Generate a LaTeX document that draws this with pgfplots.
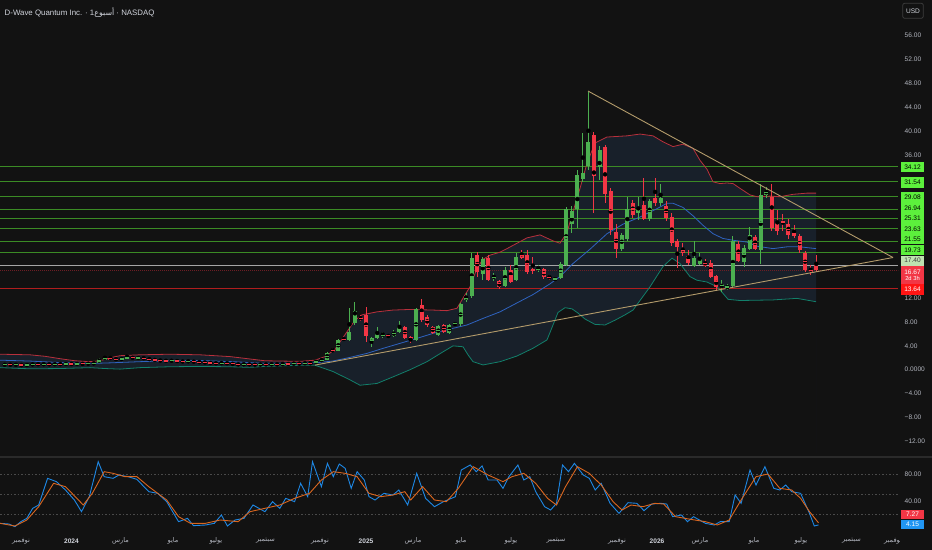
\documentclass[border=0pt]{standalone}
\usepackage{pgfplots}
\pgfplotsset{compat=1.18}
\usepackage{pgfplotstable}
\usepackage{fontspec}
\setmainfont{Liberation Sans}
\newfontfamily\arabicfont[Script=Arabic]{DejaVu Sans}
\TeXXeTstate=1
\newcommand{\ar}[1]{{\arabicfont\beginR #1\endR}}
\newcommand{\tf}{\fontsize{6.6}{7.5}\selectfont}
\definecolor{bg}{HTML}{121212}
\definecolor{axtext}{HTML}{B2B5BE}
\definecolor{titlec}{HTML}{D1D4DC}
\definecolor{upc}{HTML}{4CAF50}
\definecolor{dnc}{HTML}{F23645}
\definecolor{lvl}{HTML}{3B8B25}
\definecolor{lvlbox}{HTML}{5CF03C}
\definecolor{bbU}{HTML}{B8303C}
\definecolor{bbM}{HTML}{2F63C0}
\definecolor{bbL}{HTML}{12806B}
\definecolor{bbfill}{HTML}{18202A}
\definecolor{tanc}{HTML}{B39B6B}
\definecolor{rsiB}{HTML}{1E88E5}
\definecolor{rsiO}{HTML}{D9661F}
\definecolor{sepc}{HTML}{2A2A2A}
\definecolor{rsigrid}{HTML}{4A4A4A}

\pgfplotstableread{
i o h l c
0 0.80 0.90 0.76 0.86
2 0.80 0.88 0.77 0.84
4 0.74 0.85 0.72 0.82
5 0.82 0.98 0.80 0.95
7 0.88 0.98 0.86 0.95
9 0.86 0.99 0.84 0.96
11 0.92 1.02 0.90 0.98
13 0.94 1.04 0.92 1.00
15 0.96 1.08 0.94 1.04
16 1.04 1.14 1.00 1.10
17 1.10 1.95 1.08 1.80
18 1.80 2.30 1.70 1.95
21 1.72 1.95 1.66 1.86
22 1.86 2.55 1.82 2.05
24 1.92 2.10 1.85 2.02
30 1.45 1.60 1.42 1.52
33 1.35 1.50 1.32 1.42
39 1.05 1.20 1.02 1.14
43 0.86 0.98 0.84 0.93
46 0.83 0.95 0.80 0.90
48 0.85 0.98 0.83 0.92
50 0.88 1.04 0.86 0.98
52 0.95 1.12 0.93 1.05
54 1.00 1.18 0.98 1.12
56 1.07 1.62 1.02 1.51
57 1.51 1.75 1.45 1.63
58 1.63 3.00 1.55 2.85
60 3.19 5.10 3.10 4.97
62 4.97 10.40 4.80 6.37
63 7.88 11.40 7.50 9.89
66 4.53 5.50 3.86 5.26
67 5.36 7.10 5.20 6.09
68 5.64 6.40 5.40 5.92
70 5.64 6.60 5.50 6.37
71 6.32 8.16 6.20 7.27
74 4.97 10.40 4.80 10.10
78 5.76 7.50 5.60 7.27
80 6.15 7.60 6.00 7.43
81 7.49 8.00 7.30 7.88
82 7.60 11.20 7.30 11.00
83 11.70 12.80 11.40 12.20
84 12.40 19.60 12.00 18.70
86 16.10 18.90 15.10 18.50
88 15.30 16.20 14.90 15.60
90 14.00 17.20 13.80 16.70
92 15.00 19.50 14.80 18.90
96 16.75 17.60 16.40 16.95
99 15.10 15.50 14.90 15.30
100 15.40 18.00 15.20 17.70
101 17.60 27.30 17.40 26.90
102 24.40 27.50 22.90 26.60
103 26.90 33.50 23.70 32.60
104 31.90 39.60 31.50 33.00
105 34.10 46.60 33.50 38.20
107 33.90 37.50 31.80 36.90
111 20.30 23.00 19.90 22.60
112 21.90 29.00 21.50 26.90
114 26.30 29.00 25.10 26.80
116 25.20 28.60 25.00 28.20
118 27.90 31.20 27.40 28.80
124 17.40 21.60 17.20 18.70
125 17.80 19.60 17.60 18.60
129 13.80 15.00 13.10 14.40
130 13.80 14.30 13.40 13.95
131 14.00 22.40 13.70 21.60
133 18.10 20.90 17.30 20.40
134 20.30 24.00 20.10 22.50
136 20.00 31.10 17.80 29.30
137 29.30 30.70 28.80 30.00
}\up

\pgfplotstableread{
i o h l c
1 0.86 0.90 0.78 0.80
3 0.84 0.86 0.70 0.74
6 0.95 0.99 0.85 0.88
8 0.95 0.97 0.84 0.86
10 0.96 1.00 0.88 0.92
12 0.98 1.01 0.90 0.94
14 1.00 1.03 0.92 0.96
19 1.95 2.20 1.72 1.78
20 1.78 1.90 1.62 1.72
23 2.05 2.15 1.86 1.92
25 2.02 2.08 1.80 1.85
26 1.85 1.90 1.65 1.70
27 1.70 1.76 1.52 1.58
28 1.58 1.64 1.45 1.50
29 1.50 1.58 1.40 1.45
31 1.52 1.56 1.35 1.40
32 1.40 1.46 1.30 1.35
34 1.42 1.45 1.26 1.30
35 1.30 1.36 1.20 1.25
36 1.25 1.30 1.12 1.18
37 1.18 1.22 1.05 1.10
38 1.10 1.16 1.00 1.05
40 1.14 1.18 1.00 1.05
41 1.05 1.08 0.88 0.92
42 0.92 0.96 0.82 0.86
44 0.93 0.96 0.84 0.88
45 0.88 0.92 0.78 0.83
47 0.90 0.94 0.82 0.85
49 0.92 0.96 0.84 0.88
51 0.98 1.02 0.90 0.95
53 1.05 1.10 0.96 1.00
55 1.12 1.16 1.02 1.07
59 3.47 3.60 2.90 3.02
61 5.26 5.40 4.90 4.97
64 8.78 9.20 8.10 8.44
65 9.11 10.45 4.70 5.64
69 5.81 6.00 5.30 5.53
72 7.21 7.40 5.20 5.36
73 5.53 5.60 4.53 5.14
75 10.78 11.80 8.00 8.27
76 8.89 9.10 7.10 7.49
77 7.15 7.40 6.00 6.20
79 7.55 7.70 6.20 6.37
85 19.20 19.80 15.60 16.30
87 18.80 19.20 14.90 15.10
89 14.90 15.00 13.60 13.90
91 16.70 17.50 14.50 14.70
93 19.40 20.10 18.60 18.80
94 19.20 20.00 16.00 16.30
95 16.85 18.90 16.00 16.70
97 16.90 17.10 15.20 15.50
98 15.55 15.90 15.10 15.40
106 39.40 39.80 26.30 32.50
108 37.30 37.60 27.90 29.40
109 30.00 30.50 22.50 23.50
110 23.10 24.50 18.70 20.30
113 27.90 28.50 25.50 26.00
115 27.60 32.20 25.10 25.20
117 28.70 32.10 27.50 28.00
119 27.50 28.20 25.00 25.50
120 25.60 26.20 20.80 21.20
121 21.50 21.90 17.00 20.60
122 20.40 21.30 19.00 19.50
123 19.10 20.10 17.50 17.90
126 18.10 18.50 17.20 17.40
127 17.90 18.40 15.30 15.50
128 15.70 15.90 13.20 13.80
132 21.10 21.60 18.00 18.30
135 22.20 22.60 20.00 20.20
138 28.90 31.20 23.20 23.70
139 24.80 26.80 22.60 23.30
140 24.90 26.10 23.20 24.60
141 24.40 25.30 21.90 22.60
142 23.10 24.20 22.00 22.40
143 22.40 22.80 19.60 20.10
144 19.60 19.90 16.30 16.70
145 16.90 17.60 15.90 16.30
146 17.80 19.20 16.30 16.67
}\down

\pgfplotstableread{
x p
0 2.6
30 2.5
45 2.25
60 1.85
75 1.5
90 1.35
100 1.5
110 2.0
120 2.35
140 2.5
170 2.6
200 2.5
230 2.2
250 1.8
265 1.5
300 1.4
315 1.6
325 2.2
335 3.4
343 5.4
355 8.3
362 9.2
377 9.7
393 10.0
410 10.1
433 10.0
447 9.9
457 10.3
463 12.0
470 13.9
477 17.0
483 18.5
490 19.2
500 19.7
507 20.3
517 21.2
527 22.1
540 22.6
553 21.6
560 21.2
567 23.0
573 26.5
580 30.4
587 34.6
595 38.0
607 39.0
627 39.2
640 39.5
653 39.2
663 38.2
673 37.4
683 37.8
693 37.1
700 35.1
707 33.6
713 31.5
720 31.2
727 31.3
733 31.2
740 30.4
750 29.3
757 29.0
770 29.1
780 29.0
793 29.4
807 29.6
816 29.6
}\bbup

\pgfplotstableread{
x p
0 1.6
30 1.45
60 1.2
90 1.05
110 1.15
140 1.35
170 1.5
198 1.55
232 1.35
265 1.07
298 1.07
317 1.18
333 1.46
350 2.07
367 2.74
383 3.58
400 4.42
417 5.26
433 6.09
450 6.82
467 7.5
483 8.6
500 9.7
517 11.2
533 12.6
550 14.4
560 15.6
573 17.8
590 20.2
607 22.8
623 24.4
640 25.6
657 27.0
667 27.9
673 27.9
683 27.2
693 25.8
703 24.2
713 22.8
723 22.0
733 21.7
747 21.4
757 20.7
773 20.3
787 20.6
800 20.6
816 20.3
}\bbmid

\pgfplotstableread{
x p
0 0.35
30 0.15
60 0.2
90 0.35
105 0.2
120 0.1
140 0.35
170 0.5
200 0.55
230 0.5
250 0.4
265 0.55
300 0.75
315 0.75
333 -0.3
350 -1.7
360 -2.6
377 -2.3
393 -1.2
410 0.0
427 1.35
443 3.0
453 4.0
463 3.85
468 2.5
473 1.35
483 0.8
500 1.35
517 2.3
533 3.6
547 5.0
553 7.5
558 9.6
565 10.4
572 10.2
578 9.5
585 8.5
595 7.6
605 7.5
615 8.3
625 9.2
633 10.0
650 13.9
663 17.3
672 18.7
680 17.8
690 15.6
697 15.0
707 14.7
717 13.9
723 12.8
728 11.8
740 11.6
773 11.7
797 11.96
816 11.4
}\bblow

\pgfplotstableread{
x v
0 6.5
8.9 5.5
14.9 1.5
20.8 9.0
26.8 14.0
32.7 29.0
38.7 34.0
47.6 74.0
56.5 69.0
65.5 56.5
74.4 41.5
81.5 24.0
89.3 46.5
98.2 99.0
104.2 76.5
113.1 74.0
119.0 79.0
128.0 76.5
136.9 72.5
148.8 54.0
157.7 51.5
166.7 39.0
178.6 9.0
187.5 14.0
193.5 3.0
205.4 4.0
214.3 6.5
221.4 19.0
227.4 2.5
235.1 11.5
244.0 14.0
253.0 34.0
264.9 24.0
272.6 39.0
279.8 29.0
285.7 44.0
294.6 39.0
300.6 66.5
307.7 46.5
312.5 99.0
321.4 61.5
327.4 96.5
333.3 76.5
339.3 95.5
345.2 89.0
351.2 59.0
357.1 84.0
364.3 71.5
369.0 46.5
375.0 41.5
383.9 51.5
392.9 49.0
398.8 56.5
407.7 34.0
416.7 81.5
425.6 44.0
434.5 31.5
443.5 39.0
455.4 46.5
461.3 86.5
470.2 94.0
476.2 84.0
482.1 92.5
488.1 71.5
497.0 71.5
503.0 59.0
508.9 76.5
517.9 94.0
523.8 71.5
529.8 76.5
535.7 54.0
544.6 31.5
550.6 26.5
556.5 36.5
562.5 94.0
568.5 84.0
574.4 96.5
583.3 79.0
589.3 74.0
595.2 56.5
601.2 66.5
610.1 36.5
619.0 21.5
628.0 37.5
636.9 36.5
644.0 25.5
651.8 35.5
660.7 36.5
666.7 35.5
672.6 16.5
681.5 19.0
687.5 9.0
693.5 16.5
705.4 6.5
714.3 4.0
720.2 9.0
729.2 9.0
735.1 49.0
741.1 36.5
750.0 86.5
756.0 64.0
764.9 91.5
773.8 59.0
779.8 56.5
785.7 64.0
791.7 54.0
800.6 51.5
809.5 21.5
814.3 2.5
818.5 4.15
}\rsi

\pgfplotstableread{
x v
0 6.5
14.9 2.5
26.8 11.5
38.7 31.5
53.6 66.5
65.5 61.5
83.3 34.0
92.3 51.5
104.2 84.0
113.1 81.5
125.0 76.5
136.9 76.5
148.8 61.5
166.7 41.5
178.6 16.5
190.5 6.5
205.4 6.5
220.2 11.5
238.1 9.0
250.0 24.0
264.9 29.0
279.8 34.0
294.6 44.0
309.5 51.5
321.4 71.5
333.3 84.0
345.2 81.5
357.1 76.5
369.0 51.5
381.0 46.5
392.9 49.0
404.8 54.0
410.7 41.5
422.6 61.5
434.5 41.5
446.4 39.0
458.3 59.0
473.2 91.5
488.1 79.0
503.0 69.0
511.9 76.5
523.8 81.5
535.7 66.5
547.6 44.0
556.5 34.0
565.5 61.5
577.4 91.5
589.3 81.5
601.2 64.0
613.1 39.0
622.0 26.5
631.0 34.0
642.9 31.5
654.8 36.5
663.7 35.5
675.6 16.5
690.5 12.5
705.4 9.0
717.3 4.0
729.2 11.5
741.1 41.5
756.0 76.5
767.9 80.5
779.8 59.0
791.7 56.5
800.6 44.0
809.5 24.0
818.5 7.27
}\rsima

\begin{document}
\begin{tikzpicture}
\fill[bg] (0bp,0bp) rectangle (932bp,-550bp);

\begin{axis}[
  at={(0bp,0bp)}, anchor=north west,
  scale only axis, width=898bp, height=457bp,
  xmin=0, xmax=898, ymin=-14.63, ymax=61.97,
  axis line style={draw=none},
  major tick length=0pt,
  xtick=\empty,
  ytick={-12,-8,-4,0,4,8,12,36,40,44,48,52,56},
  yticklabels={−12.00,−8.00,−4.00,0.0000,4.00,8.00,12.00,36.00,40.00,44.00,48.00,52.00,56.00},
  yticklabel pos=right,
  yticklabel style={font=\tf, text=axtext, anchor=west, inner sep=0pt, xshift=6.5bp},
  clip=false,
]
% Bollinger fill: area under upper band, then area under lower band in background colour
\addplot[fill=bbfill, draw=none] table[x=x,y=p]{\bbup} -- (axis cs:816,-14) -- (axis cs:0,-14) -- cycle;
\addplot[fill=bg, draw=none] table[x=x,y=p]{\bblow} -- (axis cs:816,-14.2) -- (axis cs:0,-14.2) -- cycle;

% level lines
\foreach \lv in {34.12,31.54,29.08,26.94,25.31,23.63,21.55,19.73}{
  \edef\tmp{\noexpand\addplot[lvl, line width=0.9bp] coordinates {(0,\lv) (898,\lv)};}\tmp
}
\addplot[color={rgb,255:red,165;green,165;blue,165}, line width=1.1bp] coordinates {(0,17.40) (898,17.40)};
\addplot[color={rgb,255:red,110;green,30;blue,36}, line width=0.8bp, dash pattern=on 1bp off 1bp] coordinates {(0,16.67) (898,16.67)};
\addplot[color={rgb,255:red,176;green,30;blue,30}, line width=0.9bp] coordinates {(0,13.64) (898,13.64)};

% Bollinger lines
\addplot[bbU, line width=0.8bp] table[x=x,y=p]{\bbup};
\addplot[bbM, line width=0.8bp] table[x=x,y=p]{\bbmid};
\addplot[bbL, line width=0.8bp] table[x=x,y=p]{\bblow};

% candles: wicks
\addplot[only marks, mark=none, error bars/.cd, y dir=both, y explicit, error mark=none,
  error bar style={line width=1bp, color=upc}]
  table[x expr=4.8+5.558*\thisrow{i}, y expr=(\thisrow{h}+\thisrow{l})/2, y error expr=(\thisrow{h}-\thisrow{l})/2]{\up};
\addplot[only marks, mark=none, error bars/.cd, y dir=both, y explicit, error mark=none,
  error bar style={line width=1bp, color=dnc}]
  table[x expr=4.8+5.558*\thisrow{i}, y expr=(\thisrow{h}+\thisrow{l})/2, y error expr=(\thisrow{h}-\thisrow{l})/2]{\down};
% candles: bodies
\addplot[only marks, mark=-, mark size=2bp, color=upc, mark options={line width=1.2bp}, error bars/.cd, y dir=both, y explicit, error mark=none,
  error bar style={line width=4bp, color=upc}]
  table[x expr=4.8+5.558*\thisrow{i}, y expr=(\thisrow{o}+\thisrow{c})/2, y error expr=abs(\thisrow{c}-\thisrow{o})/2]{\up};
\addplot[only marks, mark=-, mark size=2bp, color=dnc, mark options={line width=1.2bp}, error bars/.cd, y dir=both, y explicit, error mark=none,
  error bar style={line width=4bp, color=dnc}]
  table[x expr=4.8+5.558*\thisrow{i}, y expr=(\thisrow{o}+\thisrow{c})/2, y error expr=abs(\thisrow{c}-\thisrow{o})/2]{\down};

% triangle
\addplot[tanc, line width=0.9bp] coordinates {(588,46.71) (893,18.81)};
\addplot[tanc, line width=0.9bp] coordinates {(315,0.78) (893,18.81)};

% price label boxes
\tikzset{pbox/.style={fill=lvlbox, text=black, minimum width=23.6bp, minimum height=10.2bp, inner sep=0pt, font=\tf}}
\node[pbox] at (axis cs:912.5,33.98) {34.12};
\node[pbox] at (axis cs:912.5,31.38) {31.54};
\node[pbox] at (axis cs:912.5,28.86) {29.08};
\node[pbox] at (axis cs:912.5,27.10) {26.94};
\node[pbox] at (axis cs:912.5,25.36) {25.31};
\node[pbox] at (axis cs:912.5,23.60) {23.63};
\node[pbox] at (axis cs:912.5,21.86) {21.55};
\node[pbox] at (axis cs:912.5,20.10) {19.73};
\node[pbox, fill={rgb,255:red,190;green,226;blue,176}, text={rgb,255:red,60;green,60;blue,60}] at (axis cs:912.5,18.27) {17.40};
\node[pbox, fill=dnc, text=white, minimum height=19.3bp, align=center] at (axis cs:912.5,15.82) {16.67\\[-1.5bp]{\fontsize{5.8}{6}\selectfont 2d 3h}};
\node[pbox, fill={rgb,255:red,255;green,20;blue,20}, text=white] at (axis cs:912.5,13.44) {13.64};
\end{axis}

\begin{axis}[
  at={(0bp,-457bp)}, anchor=north west,
  scale only axis, width=898bp, height=74bp,
  xmin=0, xmax=898, ymin=-5, ymax=106,
  axis line style={draw=none},
  major tick length=0pt,
  xtick=\empty,
  ytick={40,80},
  yticklabels={40.00,80.00},
  yticklabel pos=right,
  yticklabel style={font=\tf, text=axtext, anchor=west, inner sep=0pt, xshift=6.5bp},
  clip=false,
]
\addplot[rsigrid, line width=0.7bp, dash pattern=on 1.5bp off 2bp] coordinates {(0,80) (898,80)};
\addplot[rsigrid, line width=0.7bp, dash pattern=on 1.5bp off 2bp] coordinates {(0,50) (898,50)};
\addplot[rsigrid, line width=0.7bp, dash pattern=on 1.5bp off 2bp] coordinates {(0,20) (898,20)};
\addplot[rsiB, line width=0.9bp] table[x=x,y=v]{\rsi};
\addplot[rsiO, line width=0.9bp] table[x=x,y=v]{\rsima};
\node[fill=dnc, text=white, minimum width=23.6bp, minimum height=9.2bp, inner sep=0pt, font=\tf] at (axis cs:912.5,20.2) {7.27};
\node[fill={rgb,255:red,33;green,150;blue,243}, text=white, minimum width=23.6bp, minimum height=9.2bp, inner sep=0pt, font=\tf] at (axis cs:912.5,5.3) {4.15};
\end{axis}

% pane separator
\draw[sepc, line width=1.5bp] (0bp,-457bp) -- (932bp,-457bp);

% title
\node[anchor=west, text=titlec, font=\fontsize{7.9}{9}\selectfont, inner sep=0pt] at (4.5bp,-12.5bp) {D-Wave Quantum Inc. · 1\ar{أسبوع} · NASDAQ};
% USD box
\node[draw={rgb,255:red,60;green,60;blue,60}, rounded corners=2bp, line width=0.8bp, minimum width=20.6bp, minimum height=15bp, inner sep=0pt, text=titlec, font=\tf] at (913bp,-10.8bp) {USD};

% x labels
\tikzset{xl/.style={text=axtext, font=\tf, inner sep=0pt}, yl/.style={text=titlec, font=\tf\bfseries, inner sep=0pt}}
\node[xl] at (21bp,-541bp) {\ar{نوفمبر}};
\node[yl] at (71.5bp,-541bp) {2024};
\node[xl] at (120.5bp,-541bp) {\ar{مارس}};
\node[xl] at (173bp,-541bp) {\ar{مايو}};
\node[xl] at (216bp,-541bp) {\ar{يوليو}};
\node[xl] at (265.5bp,-541bp) {\ar{سبتمبر}};
\node[xl] at (320bp,-541bp) {\ar{نوفمبر}};
\node[yl] at (366bp,-541bp) {2025};
\node[xl] at (413bp,-541bp) {\ar{مارس}};
\node[xl] at (461bp,-541bp) {\ar{مايو}};
\node[xl] at (511bp,-541bp) {\ar{يوليو}};
\node[xl] at (556bp,-541bp) {\ar{سبتمبر}};
\node[xl] at (617bp,-541bp) {\ar{نوفمبر}};
\node[yl] at (657bp,-541bp) {2026};
\node[xl] at (700bp,-541bp) {\ar{مارس}};
\node[xl] at (754bp,-541bp) {\ar{مايو}};
\node[xl] at (801bp,-541bp) {\ar{يوليو}};
\node[xl] at (851.5bp,-541bp) {\ar{سبتمبر}};
\begin{scope}
\clip (860bp,-532bp) rectangle (899.5bp,-550bp);
\node[xl] at (893bp,-541bp) {\ar{نوفمبر}};
\end{scope}

\pgfresetboundingbox
\path[use as bounding box] (0bp,0bp) rectangle (932bp,-550bp);
\end{tikzpicture}
\end{document}
